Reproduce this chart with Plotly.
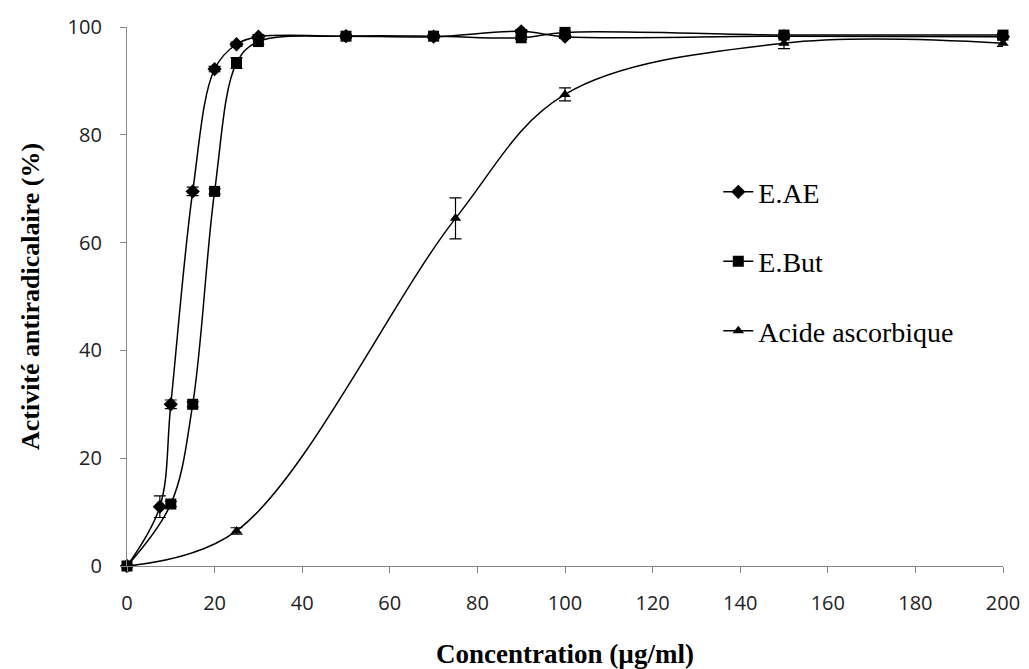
import plotly.graph_objects as go

# Data
eae_x = [0, 7.5, 10, 15, 20, 25, 30, 50, 70, 90, 100, 150, 200]
eae_y = [0, 11, 30, 69.5, 92.2, 96.8, 98.2, 98.3, 98.2, 99.2, 98.2, 98.3, 98.2]
eae_err = [0, 2.0, 0.8, 0.8, 0.5, 0.4, 0.4, 0.3, 0.3, 0.3, 0.3, 0.3, 0.3]

but_x = [0, 10, 15, 20, 25, 30, 50, 70, 90, 100, 150, 200]
but_y = [0, 11.5, 30, 69.5, 93.3, 97.3, 98.3, 98.3, 98.0, 99.0, 98.5, 98.5]
but_err = [0, 0.5, 0.5, 0.5, 1.0, 0.5, 0.3, 0.3, 0.3, 0.3, 0.3, 0.3]

aa_x = [0, 25, 75, 100, 150, 200]
aa_y = [0, 6.5, 64.5, 87.5, 97.0, 97.0]
aa_err = [0, 0.6, 3.8, 1.2, 1.0, 0.6]

series_names = ["E.AE", "E.But", "Acide ascorbique"]

fig = go.Figure()

def add(x, y, err, name, symbol, size, group):
    fig.add_trace(go.Scatter(
        x=x, y=y, name=name, mode="lines+markers",
        line=dict(color="black", width=1.5, shape="spline", smoothing=1.0),
        marker=dict(symbol=symbol, size=size, color="black"),
        error_y=dict(type="data", array=err, visible=True, color="black",
                     thickness=1.2, width=6),
        cliponaxis=False, legendgroup=group,
    ))

add(eae_x, eae_y, eae_err, series_names[0], "diamond", 11, "a")
add(but_x, but_y, but_err, series_names[1], "square", 11, "b")
add(aa_x, aa_y, aa_err, series_names[2], "triangle-up", 10, "c")

axis_common = dict(
    showline=True, linecolor="#868686", linewidth=1.2,
    ticks="outside", ticklen=6, tickcolor="#868686",
    showgrid=False, zeroline=False, automargin=False,
    tickfont=dict(family="Open Sans, Liberation Sans, sans-serif", size=20, color="#222222"),
)

fig.update_layout(
    width=1029, height=669,
    paper_bgcolor="white", plot_bgcolor="white",
    margin=dict(l=127, r=26, t=27, b=103),
    xaxis=dict(range=[0, 200], dtick=20, tick0=0, ticklabelstandoff=13,
               title=dict(text="<b>Concentration (µg/ml)</b>", standoff=30,
                          font=dict(family="Liberation Serif, Times New Roman, serif", size=27, color="black")),
               **axis_common),
    yaxis=dict(range=[0, 100], dtick=20, tick0=0, ticklabelstandoff=14,
               title=dict(text="<b>Activité antiradicalaire (%)</b>", standoff=20,
                          font=dict(family="Liberation Serif, Times New Roman, serif", size=26, color="black")),
               **axis_common),
    legend=dict(x=0.675, y=0.74, xanchor="left", yanchor="top",
                font=dict(family="Liberation Serif, Times New Roman, serif", size=28, color="black"),
                tracegroupgap=30, bgcolor="rgba(0,0,0,0)"),
    showlegend=True,
)

fig.write_html("out.html")
